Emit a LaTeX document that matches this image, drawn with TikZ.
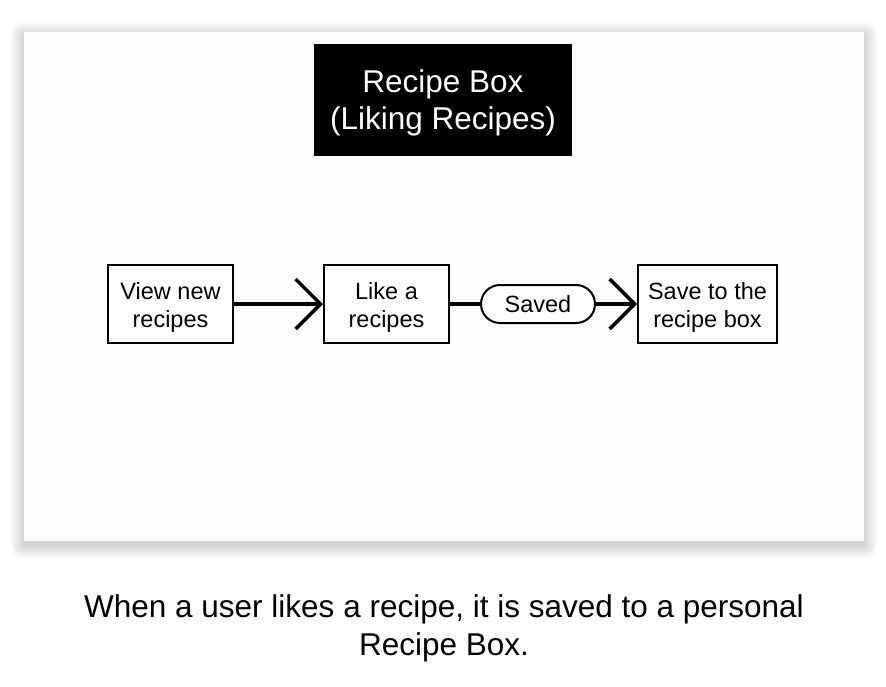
\documentclass[tikz,border=0pt]{standalone}
\usepackage{fontspec}
\setmainfont{Liberation Sans}
\usetikzlibrary{arrows.meta}
\newcommand{\downstrut}[1]{\rule{0pt}{#1}}
\begin{document}
\begin{tikzpicture}[x=1pt,y=-1pt,
  stepbox/.style={draw=black,line width=2pt,fill=white,align=center,font=\fontsize{23.5}{28}\selectfont,inner sep=0pt},
  pill/.style={draw=black,line width=2pt,fill=white,rounded corners=19pt,font=\fontsize{23.5}{28}\selectfont,inner sep=0pt},
  conn/.style={line width=3.5pt},
  arr/.style={conn,-{Straight Barb[length=25pt,width=50pt,line width=3.5pt]}}]
\useasboundingbox (0,0) rectangle (886,686);
\fill[white] (0,0) rectangle (886,686);
\foreach \i in {1,...,14}{
  \fill[black,opacity=0.01,rounded corners=\i pt] (24-\i,32-\i+4) rectangle (864+\i,541+\i+4);
}
\node[fill={rgb,255:red,251;green,251;blue,251},minimum width=840pt,minimum height=509pt,inner sep=0pt] (panel) at (444,286.5) {};
\node[fill=black,text=white,minimum width=258pt,minimum height=112pt,inner sep=0pt,align=center,
  font=\fontsize{31.5}{37}\selectfont] (title) at (443,100) {\downstrut{29pt}Recipe Box\\(Liking Recipes)};
\node[stepbox,minimum width=125pt,minimum height=78pt] (view) at (170.5,304) {\downstrut{23pt}View new\\recipes};
\node[stepbox,minimum width=125pt,minimum height=78pt] (like) at (386.5,304) {\downstrut{23pt}Like a\\recipes};
\node[pill,minimum width=114pt,minimum height=38pt] (saved) at (538,304) {Saved};
\node[stepbox,minimum width=139pt,minimum height=78pt] (save) at (707.5,304) {\downstrut{23pt}Save to the\\recipe box};
\draw[arr] (view.east) -- (like.west);
\draw[conn] (like.east) -- (saved.west);
\draw[arr] (saved.east) -- (save.west);
\node[align=center,font=\fontsize{31.5}{38}\selectfont] (caption) at (444,628) {When a user likes a recipe, it is saved to a personal\\Recipe Box.};
\end{tikzpicture}
\end{document}
